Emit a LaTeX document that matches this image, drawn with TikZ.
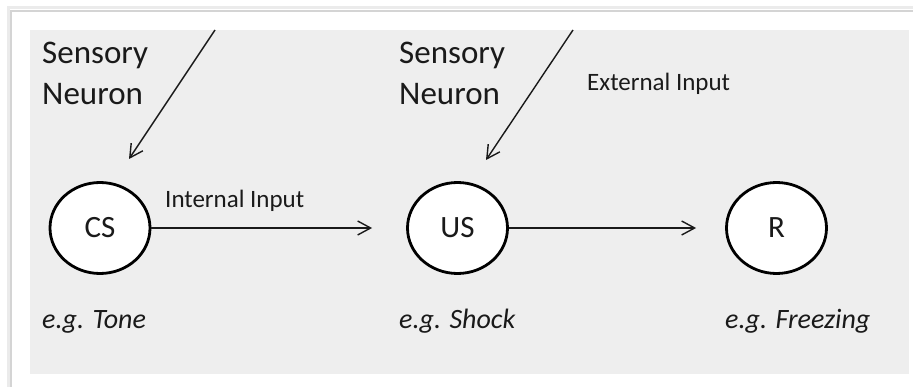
\documentclass[tikz,border=0pt]{standalone}
\usepackage{fontspec}
\setmainfont{Carlito}
\usetikzlibrary{arrows.meta,shapes.geometric}
\definecolor{panelgray}{HTML}{EEEEEE}
\definecolor{cardedge}{HTML}{D4D4D4}
\definecolor{cardshade}{HTML}{EBEBEB}
\definecolor{inkgray}{HTML}{1A1A1A}
\tikzset{
  neuron/.style={ellipse, draw=black, line width=2.8pt, fill=white,
    minimum width=100pt, minimum height=91pt, inner sep=0pt,
    text=inkgray, font=\fontsize{31}{31}\selectfont},
  link/.style={draw=black!90, line width=1.4pt,
    -{Straight Barb[length=13pt,width=14pt,line width=1.4pt]}},
  bigtext/.style={inner sep=0pt, anchor=north west, align=left, text=inkgray,
    font=\fontsize{33}{41}\selectfont},
  smalltext/.style={inner sep=0pt, anchor=base west, text=inkgray,
    font=\fontsize{25}{25}\selectfont},
  example/.style={inner sep=0pt, anchor=base west, text=inkgray,
    font=\fontsize{28}{28}\selectfont\itshape}
}
\begin{document}
\begin{tikzpicture}[x=1pt,y=-1pt]
  \useasboundingbox (0,0) rectangle (913,387);
  % white card with a soft edge
  \fill[white] (0,0) rectangle (913,387);
  \draw[cardshade, line width=3pt] (8,400) -- (8,8) -- (920,8);
  \fill[white] (11,11) rectangle (920,400);
  \draw[cardedge, line width=1.5pt] (11,400) -- (11,11) -- (920,11);
  % grey panel
  \fill[panelgray] (30,30) rectangle (909,374);

  % neurons
  \node[neuron] (cs) at (100,228) {CS};
  \node[neuron] (us) at (457.5,228) {US};
  \node[neuron] (r)  at (776.5,228) {R};

  % sensory neuron labels
  \node[bigtext] (sn1) at (42,42) {Sensory\\Neuron};
  \node[bigtext] (sn2) at (399,42) {Sensory\\Neuron};

  % input labels
  \node[smalltext] (intl) at (165,208) {Internal Input};
  \node[smalltext] (extl) at (587,91) {External Input};

  % examples
  \node[example] (ex1) at (42,328) {e.g. Tone};
  \node[example] (ex2) at (399,328) {e.g. Shock};
  \node[example] (ex3) at (725,328) {e.g. Freezing};

  % sensory inputs entering from the top
  \coordinate (in1) at (215,30);
  \coordinate (tip1) at (129,159);
  \coordinate (in2) at (573,30);
  \coordinate (tip2) at (486,160);
  \draw[link] (in1) -- (tip1);
  \draw[link] (in2) -- (tip2);

  % internal connections
  \draw[link] (cs.east) -- ([xshift=-34pt]us.west);
  \draw[link] (us.east) -- ([xshift=-29pt]r.west);
\end{tikzpicture}
\end{document}
